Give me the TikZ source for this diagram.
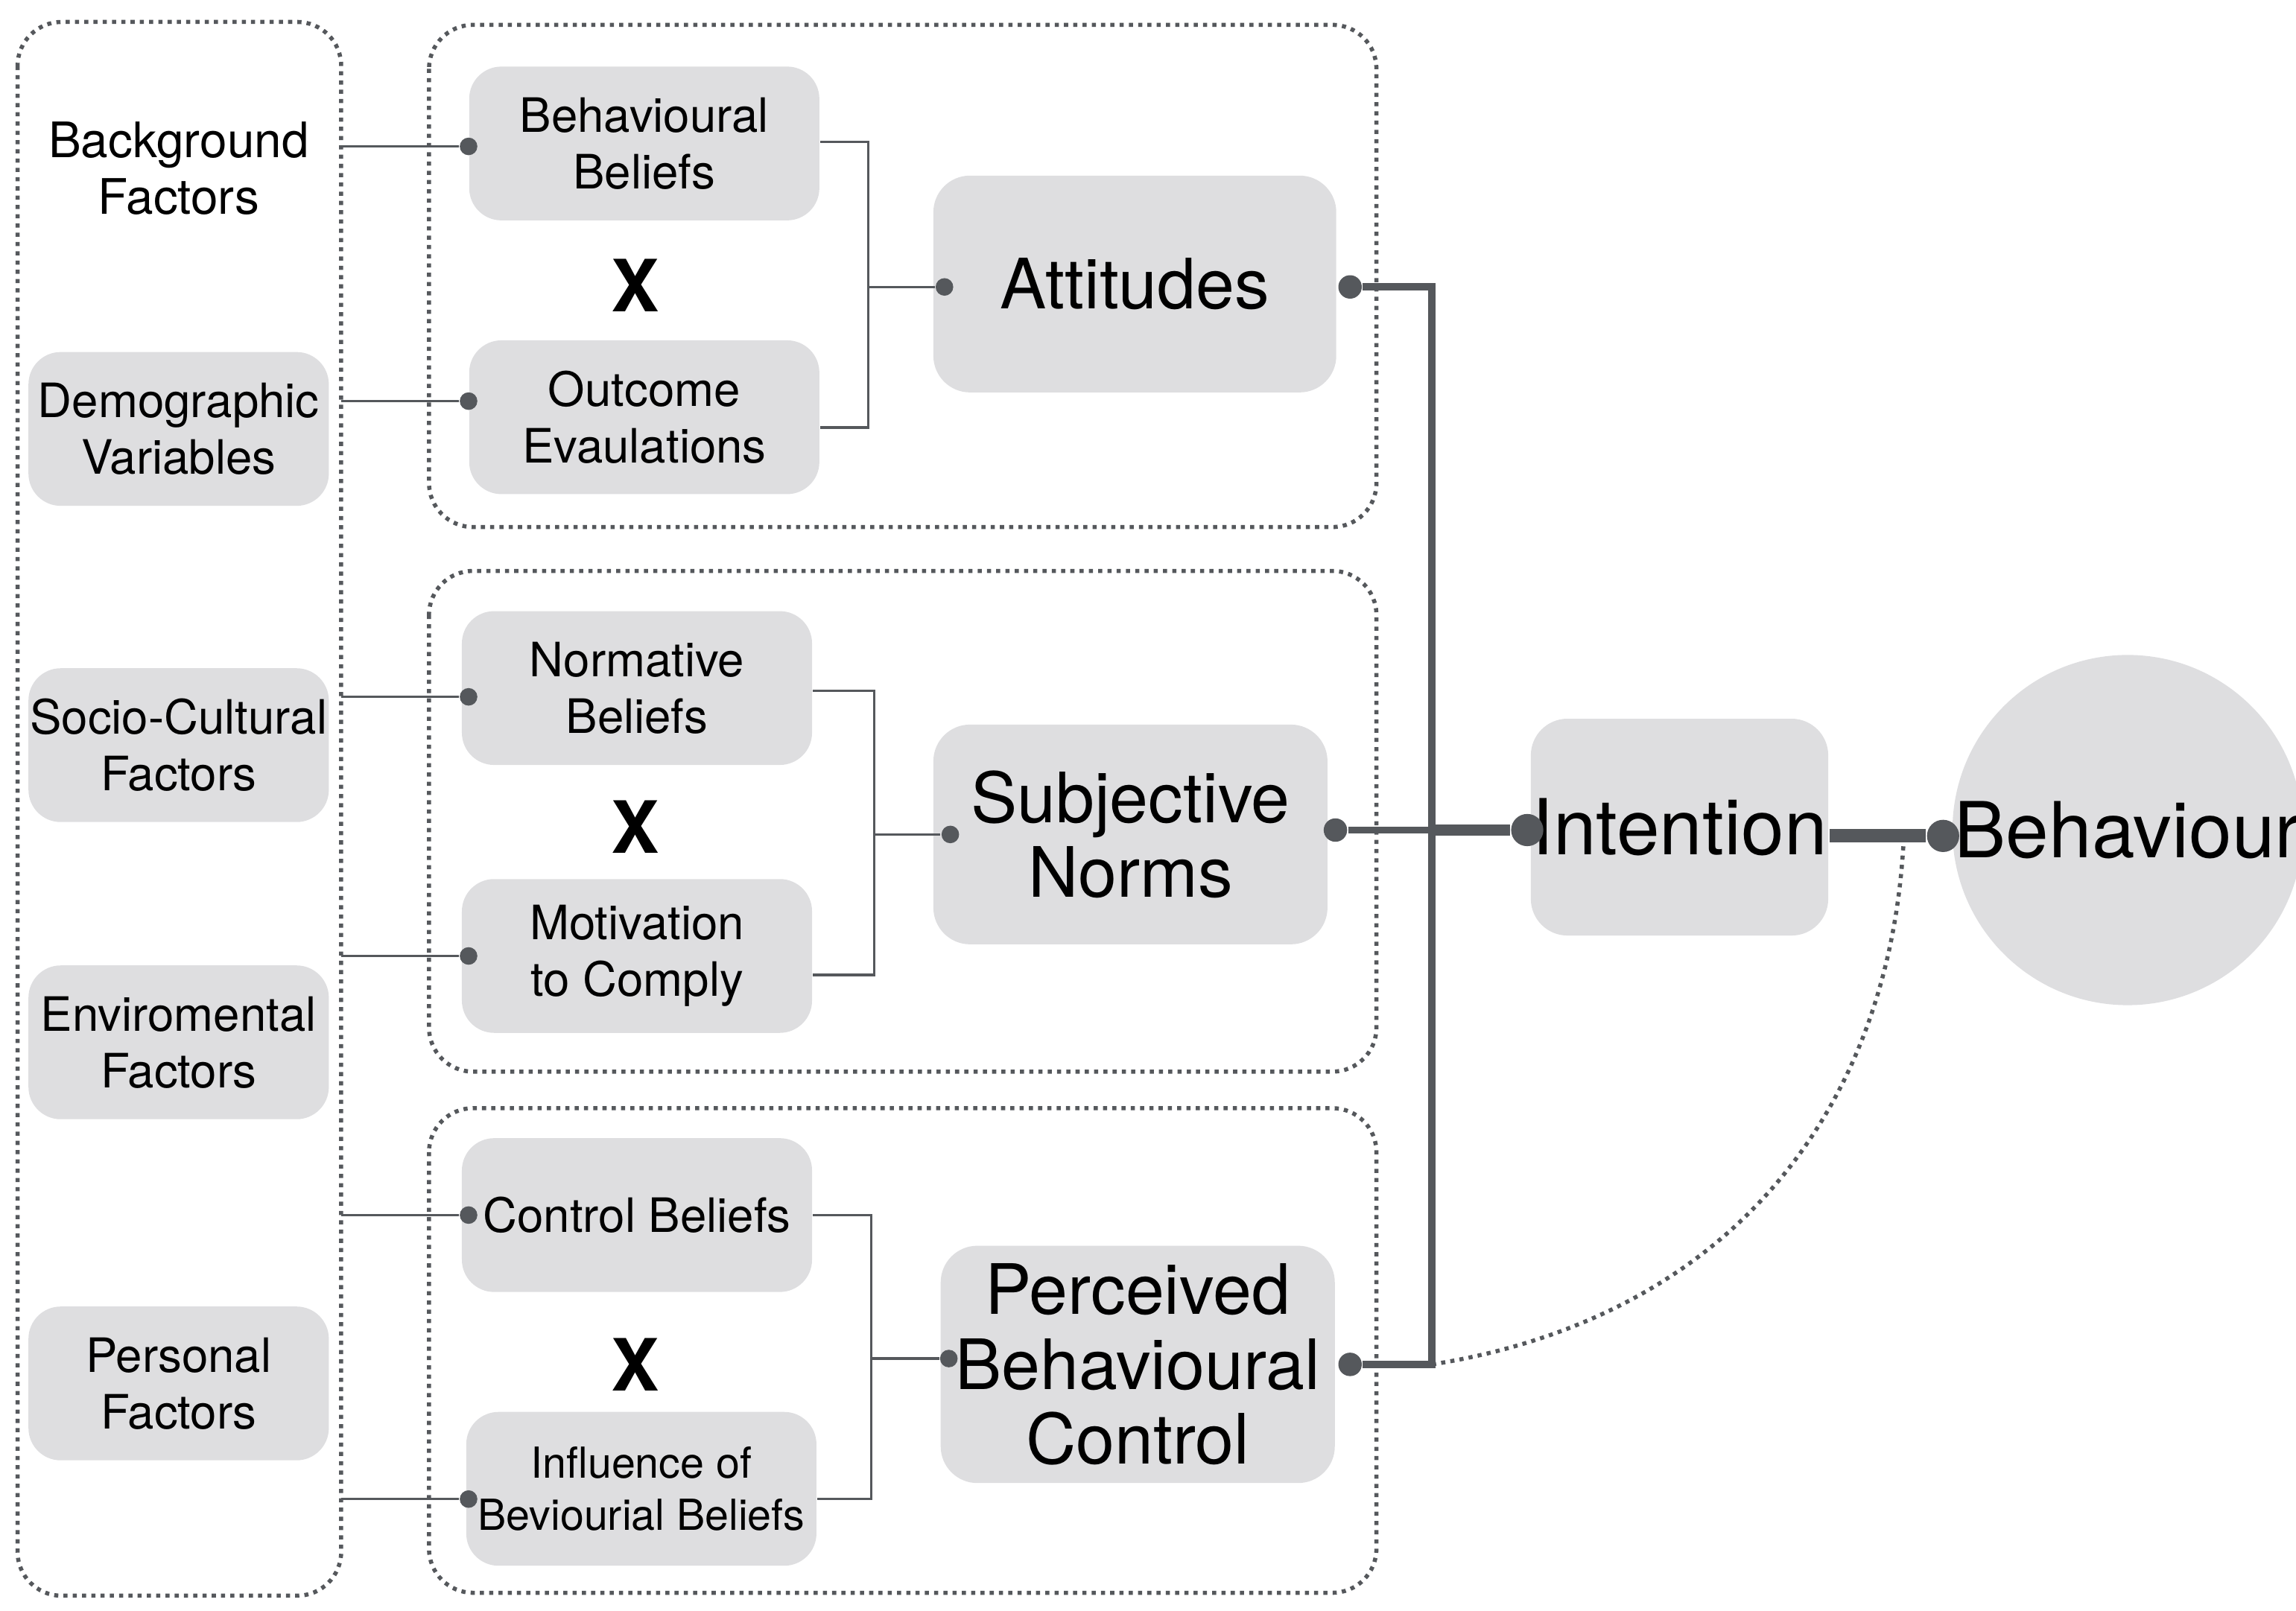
\documentclass[tikz,border=0pt]{standalone}
\usepackage{fontspec}
\setmainfont{TeX Gyre Heros}
\definecolor{boxgray}{HTML}{DEDEE0}
\definecolor{linegray}{HTML}{55585C}
\begin{document}
\begin{tikzpicture}[x=0.01cm,y=-0.01cm,
	item/.style={rectangle,rounded corners=0.22cm,fill=boxgray,minimum width=2.39cm,minimum height=1.05cm,align=center,font=\fontsize{9.2}{11}\selectfont,inner sep=0pt},
	big/.style={rectangle,rounded corners=0.25cm,fill=boxgray,align=center,font=\fontsize{13.5}{14.5}\selectfont,inner sep=0pt},
	group/.style={draw=linegray,densely dotted,thick,rounded corners=0.3cm},
	dot/.style={circle,fill=linegray,minimum size=1.2mm,inner sep=0pt},
	bigdot/.style={circle,fill=linegray,minimum size=2.2mm,inner sep=0pt},
	wire/.style={draw=linegray,line width=0.5pt},
	times/.style={font=\fontsize{14}{14}\selectfont\bfseries}]
	\useasboundingbox (0,0) rectangle (1568,1100);
	% groups
	\draw [group] (12,15) rectangle (233,1090);
	\draw [group] (293,17) rectangle (940,360);
	\draw [group] (293,390) rectangle (940,732);
	\draw [group] (293,757) rectangle (940,1088);
	% background factors
	\node [align=center,font=\fontsize{9.5}{11}\selectfont] (bg) at (122,115) {Background\\Factors};
	\node [item,minimum width=2.05cm] (demo) at (122,293) {Demographic\\Variables};
	\node [item,minimum width=2.05cm] (socio) at (122,509) {Socio-Cultural\\Factors};
	\node [item,minimum width=2.05cm] (envi) at (122,712) {Enviromental\\Factors};
	\node [item,minimum width=2.05cm] (pers) at (122,945) {Personal\\Factors};
	% beliefs
	\node [item] (bb) at (440,98) {Behavioural\\Beliefs};
	\node [item] (oe) at (440,285) {Outcome\\Evaulations};
	\node [item] (nb) at (435,470) {Normative\\Beliefs};
	\node [item] (mc) at (435,653) {Motivation\\to Comply};
	\node [item] (cb) at (435,830) {Control Beliefs};
	\node [item,font=\fontsize{8.3}{10}\selectfont] (ib) at (438,1017) {Influence of\\Beviourial Beliefs};
	\node [times] (x1) at (434,195) {X};
	\node [times] (x2) at (434,565) {X};
	\node [times] (x3) at (434,932) {X};
	% constructs
	\node [big,minimum width=2.75cm,minimum height=1.48cm] (att) at (775,194) {Attitudes};
	\node [big,minimum width=2.69cm,minimum height=1.5cm] (sn) at (772,570) {Subjective\\Norms};
	\node [big,minimum width=2.69cm,minimum height=1.62cm] (pbc) at (777,932) {Perceived\\Behavioural\\Control};
	\node [big,minimum width=2.03cm,minimum height=1.48cm,font=\fontsize{15}{16}\selectfont] (int) at (1147,565) {Intention};
	\node [circle,fill=boxgray,minimum size=2.2cm,inner sep=0pt,font=\fontsize{15}{16}\selectfont] (beh) at (1453,567) {Behaviour};
	% dots
	\node [dot] (dbb) at (320,100) {};
	\node [dot] (doe) at (320,274) {};
	\node [dot] (dnb) at (320,476) {};
	\node [dot] (dmc) at (320,653) {};
	\node [dot] (dcb) at (320,830) {};
	\node [dot] (dib) at (320,1024) {};
	\node [dot] (datt) at (645,196) {};
	\node [dot] (dsn) at (649,570) {};
	\node [dot] (dpbc) at (648,928) {};
	\node [bigdot,minimum size=1.6mm] (oatt) at (922,196) {};
	\node [bigdot,minimum size=1.6mm] (osn) at (912,567) {};
	\node [bigdot,minimum size=1.6mm] (opbc) at (922,932) {};
	\node [bigdot] (dint) at (1043,567) {};
	\node [bigdot] (dbeh) at (1327,571) {};
	\coordinate (jt) at (978,196);
	\coordinate (jm) at (978,567);
	\coordinate (jb) at (978,932);
	% inputs
	\draw [wire] (233,100) -- (dbb);
	\draw [wire] (233,274) -- (doe);
	\draw [wire] (233,476) -- (dnb);
	\draw [wire] (233,653) -- (dmc);
	\draw [wire] (233,830) -- (dcb);
	\draw [wire] (233,1024) -- (dib);
	% brackets
	\draw [wire] (bb.east |- 0,97) -| (593,292) -- (oe.east |- 0,292);
	\draw [wire] (593,196) -- (datt);
	\draw [wire] (nb.east |- 0,472) -| (597,666) -- (mc.east |- 0,666);
	\draw [wire] (597,570) -- (dsn);
	\draw [wire] (cb.east |- 0,830) -| (595,1024) -- (ib.east |- 0,1024);
	\draw [wire] (595,928) -- (dpbc);
	% to intention
	\draw [draw=linegray,line width=1.4pt] (oatt) -- (jt) -- (jb) -- (opbc);
	\draw [draw=linegray,line width=1.4pt] (osn) -- (jm);
	\draw [draw=linegray,line width=2.2pt] (jm) -- (dint);
	\draw [draw=linegray,line width=2.6pt] (int.east |- dbeh) -- (dbeh);
	\draw [draw=linegray,densely dotted,thick] (jb) .. controls (1180,900) and (1290,760) .. (1300,575);
\end{tikzpicture}
\end{document}
